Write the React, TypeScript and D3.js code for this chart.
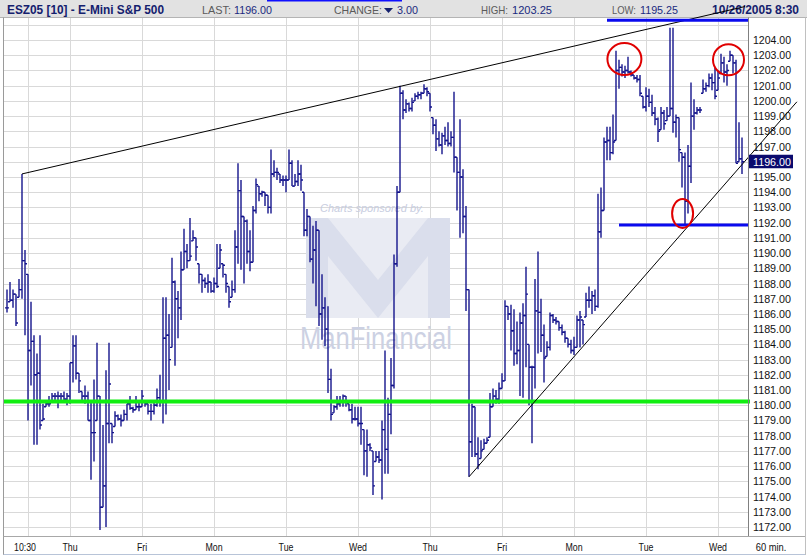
import React, { useEffect, useRef } from 'react';
import * as d3 from 'd3';

// hourly bars (high / low / close)
const highs = [
  1187.6, 1188.1, 1187.6, 1187.3, 1188.3, 1195.2, 1190.2, 1188.6, 1186.8, 1184.6,
  1183.4, 1184.6, 1180.1, 1180.2, 1180.6, 1180.8, 1180.8, 1180.9, 1180.8, 1180.9,
  1180.8, 1182.8, 1184.6, 1184.6, 1182.1, 1180.9, 1181.3, 1180.9, 1180.3, 1181.7,
  1184.1, 1180.6, 1178.7, 1182.3, 1184.1, 1178.8, 1179.6, 1179.4, 1179.4, 1179.7,
  1180.1, 1180.6, 1179.9, 1180.6, 1180.2, 1181.0, 1180.2, 1180.1, 1180.1, 1180.2,
  1181.1, 1182.0, 1187.1, 1187.1, 1186.0, 1189.7, 1188.2, 1187.5, 1190.1, 1191.6,
  1190.6, 1192.3, 1191.5, 1191.0, 1189.3, 1188.6, 1188.4, 1188.6, 1188.1, 1188.4,
  1190.6, 1190.6, 1189.3, 1188.6, 1187.8, 1188.2, 1191.5, 1195.9, 1194.8, 1192.4,
  1192.2, 1191.5, 1193.1, 1194.9, 1194.4, 1194.1, 1194.0, 1193.8, 1196.8, 1196.1,
  1195.6, 1195.2, 1195.1, 1195.1, 1196.8, 1196.1, 1195.2, 1196.1, 1195.8, 1194.0,
  1192.9, 1192.4, 1191.8, 1192.1, 1191.5, 1188.6, 1187.1, 1186.5, 1182.4, 1180.0,
  1180.6, 1180.6, 1180.7, 1180.6, 1180.1, 1180.1, 1179.9, 1179.9, 1179.9, 1178.4,
  1178.4, 1177.5, 1177.0, 1177.0, 1177.0, 1179.0, 1183.6, 1180.5, 1183.1, 1189.9,
  1194.4, 1201.0, 1200.7, 1200.1, 1199.9, 1200.2, 1200.5, 1200.6, 1200.6, 1201.1,
  1200.9, 1200.5, 1198.9, 1198.8, 1198.0, 1197.9, 1198.3, 1198.6, 1198.0, 1200.6,
  1196.3, 1198.8, 1195.5, 1193.1, 1187.6, 1180.1, 1179.9, 1177.9, 1177.7, 1177.8,
  1177.9, 1180.8, 1181.1, 1181.0, 1181.5, 1182.1, 1186.9, 1186.5, 1186.6, 1186.3,
  1185.5, 1186.1, 1186.7, 1189.1, 1184.0, 1182.6, 1188.3, 1190.1, 1187.0, 1185.3,
  1184.2, 1186.1, 1186.0, 1185.8, 1185.5, 1185.3, 1184.9, 1184.4, 1184.3, 1184.5,
  1185.9, 1186.2, 1185.6, 1187.4, 1187.8, 1187.5, 1187.6, 1193.9, 1194.3, 1197.6,
  1198.3, 1198.3, 1199.1, 1203.3, 1202.7, 1202.4, 1202.3, 1202.9, 1202.0, 1201.7,
  1201.7, 1201.7, 1200.3, 1200.9, 1200.8, 1200.4, 1199.6, 1198.9, 1199.6, 1199.4,
  1199.6, 1204.8, 1204.8, 1199.1, 1198.9, 1196.6, 1196.6, 1197.1, 1201.2, 1200.1,
  1199.6, 1199.6, 1201.4, 1201.2, 1201.8, 1201.8, 1202.2, 1202.0, 1203.1, 1202.9,
  1202.4, 1203.3, 1203.0, 1202.7, 1198.6, 1197.6,
];
const lows = [
  1186.1, 1186.8, 1186.4, 1185.2, 1187.1, 1187.0, 1184.6, 1179.0, 1181.3, 1177.4,
  1177.4, 1178.4, 1179.0, 1179.9, 1179.9, 1180.3, 1180.3, 1179.8, 1180.3, 1180.2,
  1180.0, 1180.1, 1181.5, 1181.7, 1180.8, 1180.3, 1180.1, 1179.0, 1175.1, 1176.3,
  1179.0, 1171.8, 1173.3, 1172.0, 1177.5, 1177.5, 1178.6, 1179.0, 1178.6, 1179.0,
  1179.0, 1179.7, 1179.5, 1179.7, 1179.6, 1179.9, 1179.9, 1179.4, 1179.0, 1179.4,
  1179.9, 1179.9, 1178.8, 1179.4, 1181.0, 1183.8, 1182.6, 1184.4, 1185.6, 1188.9,
  1189.0, 1189.5, 1190.8, 1189.5, 1188.0, 1187.4, 1187.7, 1187.4, 1187.4, 1187.4,
  1187.7, 1189.0, 1188.4, 1187.4, 1186.4, 1187.1, 1187.4, 1189.3, 1188.9, 1188.0,
  1189.3, 1188.8, 1189.4, 1192.6, 1193.4, 1193.7, 1193.1, 1192.6, 1192.6, 1195.0,
  1194.8, 1194.6, 1194.4, 1194.0, 1194.8, 1194.4, 1194.4, 1194.4, 1194.1, 1191.1,
  1191.1, 1189.4, 1188.0, 1186.5, 1185.2, 1184.3, 1183.9, 1180.8, 1179.0, 1179.5,
  1179.7, 1179.9, 1179.9, 1179.9, 1179.6, 1178.8, 1179.0, 1178.6, 1177.4, 1175.4,
  1175.3, 1177.0, 1174.1, 1176.3, 1176.2, 1173.8, 1175.5, 1175.5, 1178.1, 1181.1,
  1189.1, 1194.0, 1198.8, 1199.2, 1199.3, 1199.3, 1200.0, 1200.1, 1200.1, 1200.5,
  1200.3, 1199.3, 1197.8, 1196.7, 1197.0, 1196.5, 1197.1, 1197.0, 1197.0, 1195.3,
  1192.8, 1191.0, 1191.3, 1186.2, 1175.3, 1176.6, 1176.6, 1175.8, 1176.5, 1177.1,
  1177.5, 1177.9, 1179.9, 1180.1, 1180.1, 1181.1, 1181.6, 1185.6, 1183.6, 1182.6,
  1182.7, 1180.6, 1180.5, 1182.5, 1180.0, 1177.5, 1181.1, 1183.4, 1183.5, 1181.5,
  1183.2, 1183.6, 1185.4, 1185.3, 1184.9, 1184.6, 1184.1, 1183.8, 1183.4, 1183.3,
  1183.8, 1183.8, 1184.0, 1185.8, 1186.4, 1186.0, 1186.2, 1186.4, 1191.0, 1192.8,
  1196.1, 1196.1, 1196.5, 1197.4, 1200.8, 1201.6, 1201.5, 1201.8, 1201.6, 1201.4,
  1201.2, 1200.3, 1199.5, 1199.3, 1199.6, 1199.0, 1198.4, 1197.3, 1198.1, 1198.1,
  1198.7, 1199.0, 1197.9, 1197.6, 1196.0, 1194.3, 1191.8, 1192.6, 1194.6, 1198.1,
  1199.1, 1199.2, 1200.5, 1200.6, 1200.9, 1200.7, 1200.1, 1200.7, 1201.8, 1201.2,
  1201.0, 1202.6, 1201.8, 1195.9, 1196.0, 1195.2,
];
const closes = [
  1186.4, 1186.9, 1187.3, 1185.4, 1187.6, 1189.5, 1189.3, 1183.6, 1184.2, 1182.0,
  1182.1, 1178.7, 1179.1, 1180.1, 1180.1, 1180.6, 1180.6, 1180.6, 1180.6, 1180.4,
  1180.6, 1182.8, 1183.9, 1182.1, 1181.6, 1180.6, 1180.6, 1179.0, 1178.2, 1178.2,
  1180.6, 1173.3, 1174.7, 1178.8, 1181.4, 1178.2, 1179.3, 1179.1, 1179.0, 1179.4,
  1180.1, 1179.8, 1179.7, 1179.9, 1179.9, 1180.6, 1180.1, 1179.6, 1179.6, 1180.0,
  1180.5, 1180.2, 1184.4, 1184.6, 1183.0, 1188.1, 1187.0, 1186.4, 1188.9, 1190.1,
  1189.5, 1189.8, 1191.0, 1190.4, 1188.6, 1188.2, 1188.0, 1188.1, 1187.5, 1188.0,
  1187.8, 1190.2, 1189.2, 1188.0, 1186.8, 1187.6, 1190.4, 1194.1, 1192.4, 1192.1,
  1190.1, 1189.4, 1192.8, 1194.5, 1193.9, 1194.0, 1193.8, 1193.0, 1195.2, 1195.3,
  1195.3, 1194.8, 1194.8, 1194.8, 1195.9, 1194.4, 1194.7, 1195.2, 1194.8, 1191.5,
  1192.4, 1189.6, 1190.2, 1191.5, 1186.0, 1186.4, 1185.0, 1181.7, 1179.4, 1179.9,
  1180.1, 1180.3, 1180.6, 1180.2, 1179.7, 1179.1, 1179.1, 1178.8, 1178.8, 1177.0,
  1177.4, 1177.2, 1174.7, 1176.6, 1176.4, 1178.4, 1177.1, 1179.4, 1181.3, 1189.3,
  1194.0, 1200.5, 1199.4, 1199.8, 1199.5, 1199.9, 1200.3, 1200.4, 1200.5, 1200.8,
  1200.6, 1199.6, 1198.4, 1197.5, 1197.1, 1197.7, 1197.4, 1197.2, 1197.6, 1196.3,
  1195.3, 1195.0, 1192.4, 1187.6, 1177.6, 1179.9, 1176.8, 1176.1, 1177.0, 1177.5,
  1177.7, 1179.9, 1180.6, 1180.4, 1181.1, 1181.6, 1186.5, 1186.0, 1184.9, 1183.4,
  1183.6, 1185.4, 1185.9, 1187.3, 1182.5, 1182.5, 1186.2, 1186.1, 1184.6, 1183.1,
  1183.8, 1185.9, 1185.6, 1185.5, 1185.1, 1184.8, 1184.4, 1184.0, 1183.6, 1183.8,
  1185.6, 1185.8, 1185.3, 1186.9, 1186.9, 1187.2, 1186.5, 1191.4, 1192.8, 1197.3,
  1197.4, 1196.6, 1197.3, 1202.0, 1202.2, 1201.9, 1202.0, 1201.9, 1201.7, 1201.5,
  1201.4, 1200.5, 1199.6, 1200.3, 1199.9, 1199.2, 1198.8, 1198.0, 1199.2, 1198.5,
  1199.0, 1199.5, 1198.6, 1198.9, 1196.8, 1196.3, 1193.4, 1195.7, 1199.0, 1199.2,
  1199.4, 1199.4, 1200.8, 1201.0, 1201.5, 1201.2, 1200.3, 1201.5, 1202.5, 1201.9,
  1202.0, 1203.0, 1202.5, 1195.9, 1196.2, 1196.0,
];

const priceTicks = d3.range(1172, 1205);
const dayTicks = [7, 21, 45, 69, 93, 117, 141, 165, 189, 213, 237];
const dayLabels = ['10:30', 'Thu', 'Fri', 'Mon', 'Tue', 'Wed', 'Thu', 'Fri', 'Mon', 'Tue', 'Wed'];

const lastPrice = 1196.0;
const greenLevel = 1180.25;
const topLevel = 1205.3; // blue line along the top
const supportLevel = 1191.85; // blue line at the Tue low
// trend lines as [bar index, price]
const upperTrend: [number, number][] = [[5, 1195.2], [246, 1206.2]];
const lowerTrend: [number, number][] = [[154, 1175.3], [263.3, 1199.94]];
// red circles [bar index, price, rx, ry]
const circles: [number, number, number, number][] = [
  [205.8, 1202.75, 17, 16],
  [240.5, 1202.7, 15.5, 15.5],
  [225.2, 1192.6, 10.5, 14.5],
];

const W = 807;
const H = 558;
const NAVY = '#14148c';

const App: React.FC = () => {
  const ref = useRef<SVGSVGElement | null>(null);

  useEffect(() => {
    if (!ref.current) return;
    const svg = d3.select(ref.current);
    svg.selectAll('*').remove();

    const x = d3.scaleLinear().domain([0, 245]).range([7, 742]);
    const y = d3.scaleLinear().domain([1172, 1204]).range([527, 40]);
    const plotL = 4, plotR = 748, plotT = 18, plotB = 536.5;

    svg.append('rect').attr('width', W).attr('height', H).attr('fill', '#ffffff');

    // header strip
    svg.append('rect').attr('x', 0).attr('y', 0).attr('width', W).attr('height', 17.5).attr('fill', '#e2e2e2');
    svg.append('line').attr('x1', 0).attr('x2', W).attr('y1', 17.5).attr('y2', 17.5).attr('stroke', '#b4b4b4');
    svg.append('line').attr('x1', 267).attr('x2', 402).attr('y1', 0.5).attr('y2', 0.5).attr('stroke', '#1010ff').attr('stroke-width', 2);

    const hdr = svg.append('g').style('font-family', 'Arial, "Liberation Sans", sans-serif');
    hdr.append('text').attr('x', 7).attr('y', 14).attr('font-size', 13).attr('font-weight', 'bold')
      .attr('fill', '#14206e').attr('textLength', 157).attr('lengthAdjust', 'spacingAndGlyphs')
      .text('ESZ05 [10] - E-Mini S&P 500');
    const lab = (tx: number, s: string, w: number, col: string) =>
      hdr.append('text').attr('x', tx).attr('y', 14).attr('font-size', 11).attr('fill', col)
        .attr('textLength', w).attr('lengthAdjust', 'spacingAndGlyphs').text(s);
    lab(202, 'LAST:', 29, '#5a5a5a');
    lab(234, lastPrice.toFixed(2), 38, '#1a2a80');
    lab(334, 'CHANGE:', 48, '#5a5a5a');
    hdr.append('path').attr('d', 'M384,8 L393,8 L388.5,13 Z').attr('fill', '#14206e');
    lab(397, '3.00', 21, '#1a2a80');
    lab(481, 'HIGH:', 27, '#5a5a5a');
    lab(512, '1203.25', 40, '#1a2a80');
    lab(612, 'LOW:', 24, '#5a5a5a');
    lab(640, '1195.25', 38, '#1a2a80');
    hdr.append('text').attr('x', 712).attr('y', 14).attr('font-size', 13).attr('font-weight', 'bold')
      .attr('fill', '#14206e').attr('textLength', 87).attr('lengthAdjust', 'spacingAndGlyphs')
      .text('10/26/2005 8:30');

    // grid
    const grid = svg.append('g').attr('stroke', '#d9d9d9').attr('stroke-width', 1);
    grid.selectAll('line.h').data(d3.range(1172, 1206)).enter().append('line')
      .attr('x1', plotL).attr('x2', plotR)
      .attr('y1', d => Math.round(y(d)) + 0.5).attr('y2', d => Math.round(y(d)) + 0.5);
    grid.selectAll('line.v').data(dayTicks).enter().append('line')
      .attr('x1', d => Math.round(x(d)) + 0.5).attr('x2', d => Math.round(x(d)) + 0.5)
      .attr('y1', plotT).attr('y2', plotB);

    // watermark
    const wm = svg.append('g');
    wm.append('text').attr('x', 320).attr('y', 212).attr('font-size', 11).attr('font-style', 'italic')
      .attr('fill', '#c8cddf').style('font-family', 'Arial, sans-serif').text('Charts sponsored by.');
    const lx = 306, ly = 218;
    wm.append('rect').attr('x', lx).attr('y', ly).attr('width', 144).attr('height', 100).attr('fill', '#e9ebf3');
    const mPts = [[0, 100], [0, 0], [22, 0], [72, 62], [122, 0], [144, 0], [144, 100], [122, 100], [122, 38], [72, 100], [22, 38], [22, 100]];
    wm.append('polygon').attr('points', mPts.map(p => `${lx + p[0]},${ly + p[1]}`).join(' ')).attr('fill', '#dadeec');
    wm.append('text').attr('x', 300).attr('y', 349).attr('font-size', 31).attr('fill', '#ccd1e3')
      .attr('textLength', 152).attr('lengthAdjust', 'spacingAndGlyphs')
      .style('font-family', 'Arial, sans-serif').text('ManFinancial');

    // OHLC bars
    const bars = svg.append('g').attr('stroke', NAVY).attr('stroke-width', 1.4).attr('fill', 'none');
    highs.forEach((hi, i) => {
      const lo = lows[i];
      const c = closes[i];
      const o = i === 0 ? c : Math.max(lo, Math.min(hi, closes[i - 1]));
      const xi = x(i);
      bars.append('line').attr('x1', xi).attr('x2', xi).attr('y1', y(hi)).attr('y2', y(lo));
      bars.append('line').attr('x1', xi - 2).attr('x2', xi).attr('y1', y(o)).attr('y2', y(o));
      bars.append('line').attr('x1', xi).attr('x2', xi + 2).attr('y1', y(c)).attr('y2', y(c));
    });

    // green level
    svg.append('line').attr('x1', plotL).attr('x2', 750).attr('y1', y(greenLevel)).attr('y2', y(greenLevel))
      .attr('stroke', '#11ee11').attr('stroke-width', 4);

    // trend lines
    const tl = d3.line<[number, number]>().x(d => x(d[0])).y(d => y(d[1]));
    svg.append('path').attr('d', tl(upperTrend)).attr('stroke', '#000').attr('stroke-width', 1).attr('fill', 'none');
    svg.append('path').attr('d', tl(lowerTrend)).attr('stroke', '#000').attr('stroke-width', 1).attr('fill', 'none');

    // blue lines
    svg.append('line').attr('x1', x(200)).attr('x2', plotR).attr('y1', y(topLevel)).attr('y2', y(topLevel))
      .attr('stroke', '#0a0aee').attr('stroke-width', 3);
    svg.append('line').attr('x1', x(204)).attr('x2', plotR).attr('y1', y(supportLevel)).attr('y2', y(supportLevel))
      .attr('stroke', '#0a0aee').attr('stroke-width', 3);

    // red circles
    svg.selectAll('ellipse.c').data(circles).enter().append('ellipse')
      .attr('cx', d => x(d[0])).attr('cy', d => y(d[1])).attr('rx', d => d[2]).attr('ry', d => d[3])
      .attr('fill', 'none').attr('stroke', '#e00000').attr('stroke-width', 2);

    // frame
    const frame = svg.append('g').attr('stroke', '#9a9a9a').attr('fill', 'none');
    frame.append('line').attr('x1', 3.5).attr('x2', 3.5).attr('y1', 17.5).attr('y2', 555);
    frame.append('line').attr('x1', plotR + 0.5).attr('x2', plotR + 0.5).attr('y1', 17.5).attr('y2', plotB).attr('stroke', '#808080');
    frame.append('line').attr('x1', 3.5).attr('x2', 805).attr('y1', plotB).attr('y2', plotB).attr('stroke', '#a8a8a8');
    frame.append('line').attr('x1', 3.5).attr('x2', 805).attr('y1', 554.5).attr('y2', 554.5).attr('stroke', '#b8c4d8');
    frame.append('line').attr('x1', 805.5).attr('x2', 805.5).attr('y1', 17.5).attr('y2', 555).attr('stroke', '#c0c0c0');

    // price axis
    const ax = svg.append('g').style('font-family', 'Arial, "Liberation Sans", sans-serif').attr('font-size', 11);
    ax.selectAll('text').data(priceTicks.filter(p => p !== lastPrice)).enter().append('text')
      .attr('x', 753).attr('y', d => y(d) + 4).attr('fill', '#111')
      .attr('textLength', 38).attr('lengthAdjust', 'spacingAndGlyphs')
      .text(d => d.toFixed(2));
    ax.append('rect').attr('x', 749).attr('y', y(lastPrice) - 7).attr('width', 44).attr('height', 13.5).attr('fill', '#0a0a6e');
    ax.append('text').attr('x', 753).attr('y', y(lastPrice) + 4).attr('fill', '#fff')
      .attr('textLength', 38).attr('lengthAdjust', 'spacingAndGlyphs').text(lastPrice.toFixed(2));

    // time axis
    const tx = svg.append('g').style('font-family', 'Arial, "Liberation Sans", sans-serif').attr('font-size', 11).attr('fill', '#111');
    tx.selectAll('text').data(dayTicks).enter().append('text')
      .attr('transform', (d, i) => `translate(${x(d) - (i === 0 ? 3 : 0)},551) scale(0.8,1)`)
      .attr('text-anchor', 'middle')
      .text((d, i) => dayLabels[i]);
    tx.append('text').attr('transform', 'translate(771,551) scale(0.85,1)').attr('text-anchor', 'middle').text('60 min.');
  }, []);

  return (
    <svg ref={ref} width={W} height={H} style={{ position: 'absolute', left: 0, top: 0, display: 'block' }} />
  );
};

export default App;
